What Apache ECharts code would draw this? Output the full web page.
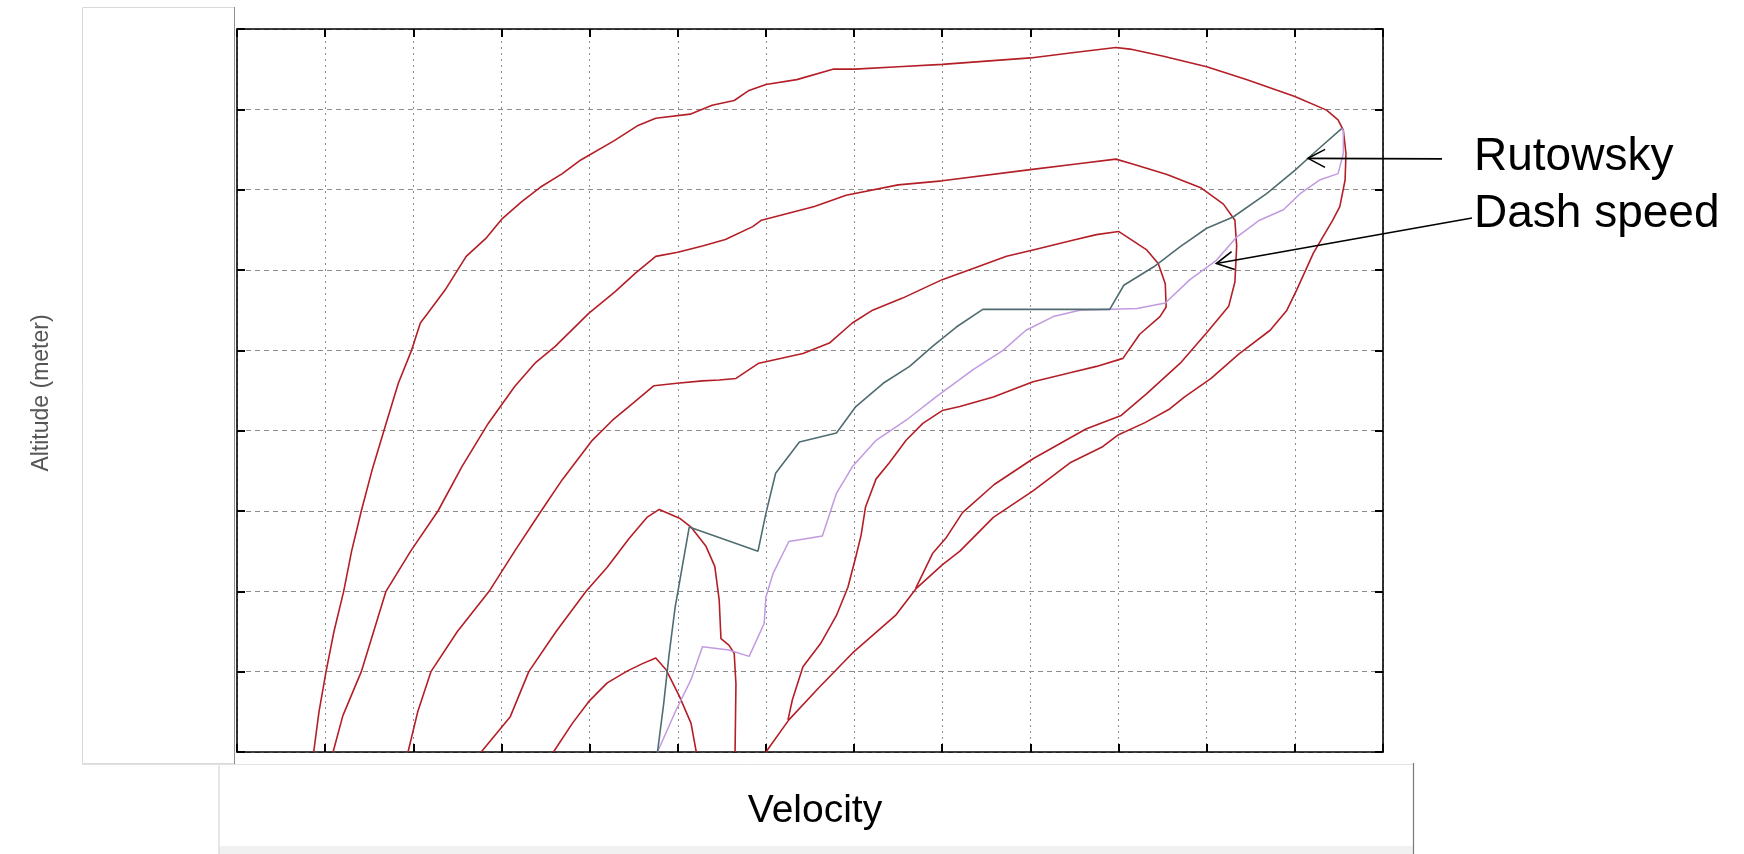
<!DOCTYPE html>
<html>
<head>
<meta charset="utf-8">
<script src="https://cdn.jsdelivr.net/npm/echarts@6/dist/echarts.min.js"></script>
<style>
html,body{margin:0;padding:0;background:#ffffff;}
#chart{width:1744px;height:854px;}
</style>
</head>
<body>
<div id="chart"></div>
<script>
// ---- axis ranges (grid units, no tick labels shown in the original) ----
const xMin = 0, xMax = 13, xStep = 1;
const yMin = 0, yMax = 9, yStep = 1;

// ---- text ----
const xAxisTitle = 'Velocity';
const yAxisTitle = 'Altitude (meter)';
const labelRutowsky = 'Rutowsky';
const labelDash = 'Dash speed';

// ---- red envelope curves [velocity, altitude] ----
const curveA = [[0.87,0],[0.93,0.5],[1.01,1.0],[1.1,1.5],[1.21,2.0],[1.3,2.5],[1.41,3.0],[1.53,3.5],[1.68,4.05],[1.83,4.59],[1.98,5.0],[2.08,5.34],[2.17,5.47],[2.36,5.75],[2.6,6.17],[2.82,6.39],[3.01,6.64],[3.23,6.85],[3.44,7.03],[3.69,7.2],[3.9,7.37],[4.28,7.61],[4.55,7.8],[4.75,7.89],[5.14,7.94],[5.39,8.05],[5.64,8.11],[5.8,8.23],[6.0,8.31],[6.35,8.37],[6.76,8.5],[7.01,8.5],[7.5,8.53],[8.0,8.56],[9.0,8.64],[9.52,8.71],[9.97,8.77],[10.13,8.75],[10.51,8.66],[11.0,8.53],[11.45,8.37],[12.0,8.16],[12.36,7.99],[12.49,7.87],[12.55,7.74],[12.58,7.45],[12.57,7.12],[12.51,6.79],[12.43,6.62],[12.21,6.21],[12.02,5.75],[11.91,5.5],[11.72,5.25],[11.36,4.95],[11.05,4.65],[10.75,4.42],[10.58,4.27],[10.3,4.1],[10.0,3.95],[9.82,3.8],[9.45,3.6],[9.03,3.25],[8.58,2.92],[8.2,2.5],[8.0,2.33],[7.7,2.03],[7.47,1.7],[6.98,1.23],[6.6,0.8],[6.26,0.4],[6.0,0]];
const curveB = [[1.09,0],[1.2,0.45],[1.41,1.0],[1.55,1.5],[1.69,2.0],[1.97,2.5],[2.28,3.0],[2.55,3.55],[2.85,4.09],[3.15,4.55],[3.38,4.84],[3.61,5.05],[3.99,5.46],[4.29,5.73],[4.52,5.96],[4.75,6.17],[5.0,6.22],[5.28,6.3],[5.54,6.38],[5.85,6.54],[5.95,6.62],[6.55,6.79],[6.91,6.93],[7.5,7.06],[8.0,7.11],[9.0,7.25],[9.52,7.32],[9.97,7.38],[10.16,7.32],[10.55,7.19],[10.94,7.02],[11.19,6.82],[11.32,6.62],[11.34,6.3],[11.32,5.85],[11.25,5.55],[11.0,5.22],[10.7,4.84],[10.32,4.46],[10.03,4.19],[9.63,4.02],[9.03,3.65],[8.59,3.33],[8.23,2.98],[8.04,2.66],[7.89,2.47],[7.7,2.04]];
const curveC = [[1.94,0],[2.05,0.5],[2.2,1.0],[2.5,1.5],[2.86,2.0],[3.15,2.5],[3.45,3.0],[3.69,3.39],[4.03,3.88],[4.26,4.13],[4.5,4.35],[4.73,4.56],[4.99,4.59],[5.28,4.62],[5.47,4.63],[5.66,4.65],[5.92,4.84],[6.42,4.96],[6.72,5.09],[6.98,5.34],[7.21,5.5],[7.55,5.65],[8.0,5.88],[8.35,6.02],[8.73,6.17],[9.03,6.25],[9.48,6.37],[9.75,6.44],[10.0,6.48],[10.32,6.25],[10.45,6.08],[10.53,5.83],[10.54,5.54],[10.47,5.42],[10.24,5.2],[10.05,4.9],[9.75,4.8],[9.45,4.72],[9.03,4.61],[8.58,4.42],[8.2,4.3],[8.0,4.25],[7.78,4.09],[7.59,3.88],[7.4,3.6],[7.25,3.4],[7.13,3.05],[7.08,2.7],[7.02,2.43],[6.93,2.05],[6.8,1.7],[6.62,1.35],[6.42,1.06],[6.3,0.65],[6.25,0.4]];
const curveD = [[2.77,0],[3.1,0.44],[3.31,1.0],[3.62,1.5],[3.96,2.0],[4.2,2.3],[4.45,2.66],[4.65,2.92],[4.79,3.02],[5.02,2.91],[5.15,2.8],[5.32,2.56],[5.42,2.31],[5.47,1.89],[5.49,1.41],[5.58,1.33],[5.64,1.23],[5.66,0.85],[5.65,0]];
const curveE = [[3.59,0],[3.8,0.35],[4.0,0.64],[4.2,0.86],[4.43,1.01],[4.6,1.1],[4.75,1.17],[4.87,1.02],[5.02,0.69],[5.15,0.36],[5.21,0]];

// ---- Rutowsky path and dash-speed path ----
const rutowsky = [[4.77,0],[4.84,0.6],[4.9,1.2],[4.97,1.8],[5.05,2.3],[5.13,2.8],[5.91,2.5],[6.0,2.97],[6.11,3.47],[6.38,3.86],[6.8,3.97],[7.02,4.3],[7.33,4.59],[7.63,4.8],[7.89,5.05],[8.16,5.29],[8.46,5.51],[9.9,5.51],[10.06,5.81],[10.4,6.04],[10.7,6.29],[11.0,6.52],[11.3,6.66],[11.68,6.95],[12.0,7.24],[12.21,7.45],[12.53,7.76]];
const dashSpeed = [[4.77,0],[4.98,0.52],[5.15,0.9],[5.28,1.31],[5.58,1.27],[5.81,1.19],[5.98,1.6],[6.0,1.93],[6.08,2.22],[6.26,2.62],[6.64,2.69],[6.8,3.22],[6.98,3.55],[7.25,3.88],[7.59,4.13],[7.93,4.42],[8.35,4.76],[8.69,5.0],[8.95,5.25],[9.26,5.42],[9.56,5.5],[10.21,5.52],[10.53,5.59],[10.81,5.88],[11.11,6.12],[11.34,6.41],[11.6,6.62],[11.87,6.75],[12.06,6.95],[12.28,7.12],[12.49,7.2],[12.55,7.45],[12.55,7.74],[12.53,7.76]];

// ---- arrow anchor points on the curves ----
const rutowskyArrowAt = [12.15, 7.39];
const dashArrowAt = [11.11, 6.08];

const RED = '#b41e26';
const chart = echarts.init(document.getElementById('chart'), null, {renderer: 'canvas'});

function redSeries(name, data) {
  return {name, type: 'line', data, showSymbol: false, symbol: 'none', smooth: false,
    lineStyle: {color: RED, width: 1.6}, z: 3, silent: true};
}
const tickStyle = {show: true, inside: true, length: 8, lineStyle: {color: '#000', width: 2}};
const lineStyleAxis = {show: true, onZero: false, lineStyle: {color: '#000', width: 1.6}};

const option = {
  animation: false,
  backgroundColor: '#ffffff',
  grid: {left: 237, top: 29, right: 361, bottom: 102, containLabel: false, outerBoundsMode: 'none'},
  xAxis: [
    {type: 'value', min: xMin, max: xMax, interval: xStep, position: 'bottom',
     axisLine: lineStyleAxis, axisTick: tickStyle, axisLabel: {show: false},
     splitLine: {show: true, lineStyle: {color: '#8c8c8c', width: 1, type: [2, 4]}}},
    {type: 'value', min: xMin, max: xMax, interval: xStep, position: 'top',
     axisLine: lineStyleAxis, axisTick: tickStyle, axisLabel: {show: false}, splitLine: {show: false}}
  ],
  yAxis: [
    {type: 'value', min: yMin, max: yMax, interval: yStep, position: 'left',
     axisLine: lineStyleAxis, axisTick: tickStyle, axisLabel: {show: false},
     splitLine: {show: true, lineStyle: {color: '#8c8c8c', width: 1, type: [5, 4]}}},
    {type: 'value', min: yMin, max: yMax, interval: yStep, position: 'right',
     axisLine: lineStyleAxis, axisTick: tickStyle, axisLabel: {show: false}, splitLine: {show: false}}
  ],
  series: [
    redSeries('A', curveA), redSeries('B', curveB), redSeries('C', curveC),
    redSeries('D', curveD), redSeries('E', curveE),
    {name: 'Dash speed', type: 'line', data: dashSpeed, showSymbol: false, symbol: 'none',
     lineStyle: {color: '#c29ae0', width: 1.5}, z: 4, silent: true},
    {name: 'Rutowsky', type: 'line', data: rutowsky, showSymbol: false, symbol: 'none',
     lineStyle: {color: '#4f6d70', width: 1.6}, z: 5, silent: true}
  ]
};
chart.setOption(option);

function arrow(tip, tail) {
  const dx = tail[0] - tip[0], dy = tail[1] - tip[1];
  const L = Math.sqrt(dx*dx + dy*dy); const ux = dx / L, uy = dy / L;
  const px = -uy, py = ux; const len = 17, hw = 9;
  const b = [tip[0] + ux*len, tip[1] + uy*len];
  return [
    {type: 'polyline', shape: {points: [tip, tail]}, style: {stroke: '#000', lineWidth: 1.6, fill: null}, z: 20},
    {type: 'polyline', shape: {points: [[b[0]+px*hw, b[1]+py*hw], tip, [b[0]-px*hw, b[1]-py*hw]]},
     style: {stroke: '#000', lineWidth: 1.6, fill: null}, z: 20}
  ];
}
const rTip = chart.convertToPixel({xAxisIndex: 0, yAxisIndex: 0}, rutowskyArrowAt);
const dTip = chart.convertToPixel({xAxisIndex: 0, yAxisIndex: 0}, dashArrowAt);

const textFont = '"Liberation Sans", Arial, sans-serif';
const graphic = [
  // left panel
  {type: 'rect', shape: {x: 82.5, y: 7.5, width: 152, height: 756}, style: {fill: '#ffffff', stroke: '#d9d9d9', lineWidth: 1}, z: -10},
  {type: 'line', shape: {x1: 234.5, y1: 7, x2: 234.5, y2: 764}, style: {stroke: '#8f8f8f', lineWidth: 1}, z: -9},
  // bottom panel
  {type: 'rect', shape: {x: 219, y: 846, width: 1194, height: 8}, style: {fill: '#f1f1f1'}, z: -10},
  {type: 'line', shape: {x1: 82, y1: 764.5, x2: 1413, y2: 764.5}, style: {stroke: '#e2e2e2', lineWidth: 1}, z: -9},
  {type: 'line', shape: {x1: 219, y1: 765, x2: 219, y2: 854}, style: {stroke: '#cfcfcf', lineWidth: 1}, z: -9},
  {type: 'line', shape: {x1: 1413.5, y1: 763, x2: 1413.5, y2: 854}, style: {stroke: '#7a7a7a', lineWidth: 1.2}, z: -9},
  // titles
  {type: 'text', x: 815, y: 811, style: {text: xAxisTitle, font: '39px ' + textFont, fill: '#000', textAlign: 'center', textVerticalAlign: 'middle'}, z: 20},
  {type: 'text', x: 42, y: 393, rotation: Math.PI / 2,
   style: {text: yAxisTitle, font: '23px ' + textFont, fill: '#555', textAlign: 'center', textVerticalAlign: 'middle'}, z: 20},
  {type: 'text', x: 1474, y: 157, style: {text: labelRutowsky, font: '46px ' + textFont, fill: '#000', textAlign: 'left', textVerticalAlign: 'middle'}, z: 20},
  {type: 'text', x: 1474, y: 214, style: {text: labelDash, font: '46px ' + textFont, fill: '#000', textAlign: 'left', textVerticalAlign: 'middle'}, z: 20}
].concat(arrow(rTip, [1442, rTip[1] + 0.5]), arrow(dTip, [1472, 218]));

chart.setOption({graphic});
</script>
</body>
</html>
